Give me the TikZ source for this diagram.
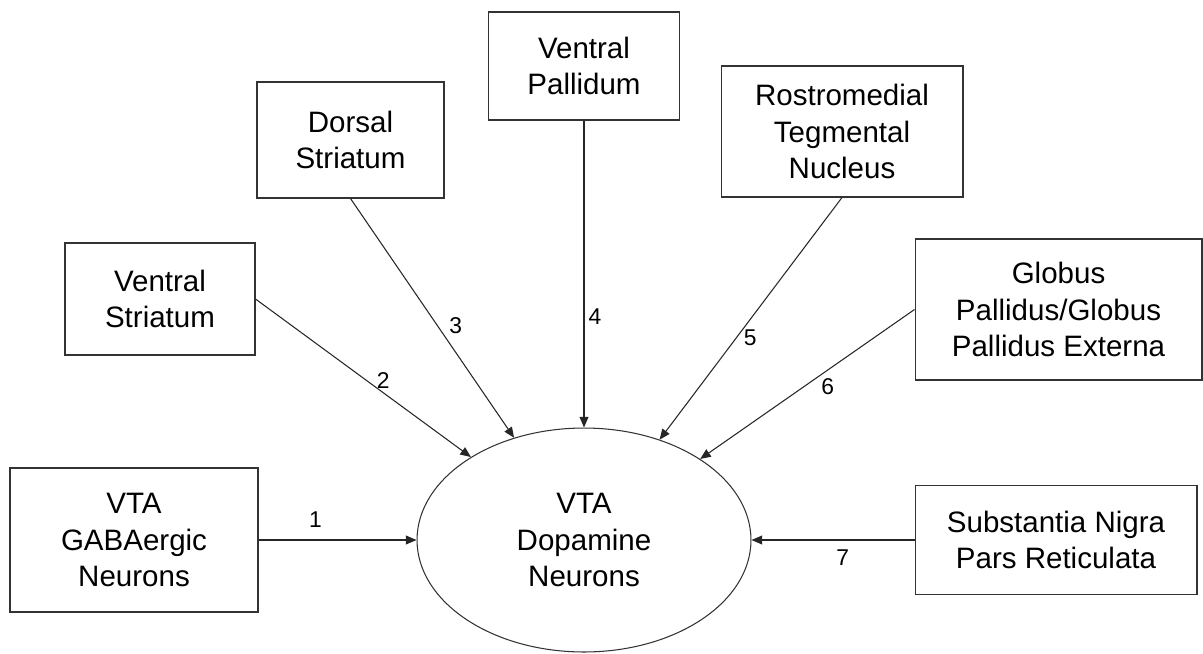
\documentclass[tikz,border=0pt]{standalone}
\usepackage{fontspec}
\setmainfont{Liberation Sans}
\usetikzlibrary{arrows.meta, shapes.geometric}

\begin{document}
\begin{tikzpicture}[x=0.02cm, y=-0.02cm, >={Triangle[length=6pt,width=5pt]},
        box/.style={draw=black!80, line width=0.6pt, align=center, inner sep=0pt, font=\fontsize{16.8}{20.9}\selectfont},
        num/.style={inner sep=0pt, font=\fontsize{13}{14}\selectfont},
        link/.style={->, draw=black!85, line width=0.6pt}]
        \useasboundingbox (0,0) rectangle (1203,653);
        \node[box, minimum width=4.96cm, minimum height=2.88cm] (gaba) at (134,540) {VTA\\GABAergic\\Neurons};
        \node[box, minimum width=3.8cm, minimum height=2.24cm] (vs) at (160,299) {Ventral\\Striatum};
        \node[box, minimum width=3.74cm, minimum height=2.32cm] (ds) at (350.5,140) {Dorsal\\Striatum};
        \node[box, minimum width=3.82cm, minimum height=2.16cm] (vp) at (584,66) {Ventral\\Pallidum};
        \node[box, minimum width=4.84cm, minimum height=2.62cm] (rmtg) at (842,131.5) {Rostromedial\\Tegmental\\Nucleus};
        \node[box, minimum width=5.74cm, minimum height=2.82cm] (gp) at (1058.5,309.5) {Globus\\Pallidus/Globus\\Pallidus Externa};
        \node[box, minimum width=5.64cm, minimum height=2.18cm] (snr) at (1056,540) {Substantia Nigra\\Pars Reticulata};
        \node[box, ellipse, minimum width=6.68cm, minimum height=4.48cm] (da) at (584,540) {VTA\\Dopamine\\Neurons};

        \draw[link] (gaba.east) -- node[num, pos=0.36, yshift=11.4pt] {1} (da);
        \draw[link] (vs.east) -- node[num, pos=0.565, xshift=3.4pt, yshift=4.7pt] {2} (da);
        \draw[link] (ds.south) -- node[num, pos=0.567, xshift=7.1pt, yshift=5.1pt] {3} (da);
        \draw[link] (vp.south) -- node[num, pos=0.64, xshift=6.3pt] {4} (da);
        \draw[link] (rmtg.south) -- node[num, pos=0.552, xshift=5.1pt, yshift=-3.9pt] {5} (da);
        \draw[link] (gp.west) -- node[num, pos=0.441, xshift=4.4pt, yshift=-6.4pt] {6} (da);
        \draw[link] (snr.west) -- node[num, pos=0.44, yshift=-10pt] {7} (da);
    \end{tikzpicture}
\end{document}
